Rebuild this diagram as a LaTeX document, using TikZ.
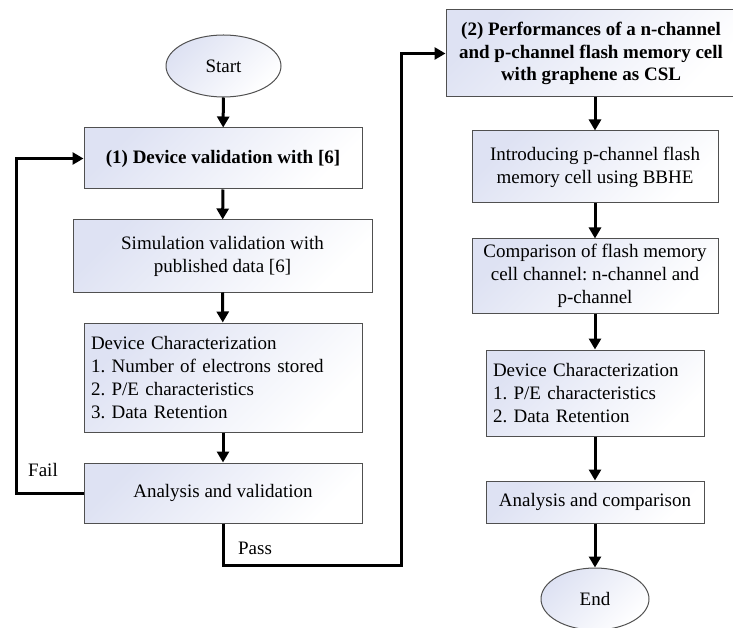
\documentclass[tikz,border=0pt]{standalone}
\usepackage{fontspec}
\setmainfont{Liberation Serif}
\usetikzlibrary{arrows.meta,shapes.geometric}
\definecolor{shadec}{RGB}{222,226,243}
\definecolor{edgec}{RGB}{80,80,80}
\frenchspacing
\begin{document}
\begin{tikzpicture}[x=1pt,y=-1pt,
  txt/.style={font=\fontsize{19}{23}\selectfont},
  box/.style={txt,draw=edgec,line width=1pt,top color=shadec,bottom color=white,shading angle=45,align=center,inner sep=0pt},
  boldbox/.style={box,font=\fontsize{19}{22.5}\selectfont\bfseries},
  term/.style={box,ellipse},
  arr/.style={line width=3pt,-{Triangle[length=11pt,width=12pt]}}
]
\useasboundingbox (0,0) rectangle (733,628);

\node[term, minimum width=115pt, minimum height=62pt] (start) at (223.5,66) {Start};
\node[boldbox, minimum width=278pt, minimum height=61pt] (b1) at (223,158.5) {(1) Device validation with [6]};
\node[box, minimum width=299pt, minimum height=72pt] (b2) at (222.5,256) {Simulation validation with\\published data [6]};
\node[box, minimum width=278pt, minimum height=109pt, align=left, text width=264pt] (b3) at (223,377.5) {Device Characterization\\1. Number of electrons stored\\2. P/E characteristics\\3. Data Retention};
\node[box, minimum width=278pt, minimum height=60pt] (b4) at (223,493) {Analysis and validation};

\node[boldbox, minimum width=290pt, minimum height=87pt] (b5) at (591,53.5) {(2) Performances of a n-channel\\and p-channel flash memory cell\\with graphene as CSL};
\node[box, minimum width=246pt, minimum height=72pt] (b6) at (595,167) {Introducing p-channel flash\\memory cell using BBHE};
\node[box, minimum width=246pt, minimum height=74pt] (b7) at (595,276) {Comparison of flash memory\\cell channel: n-channel and\\p-channel};
\node[box, minimum width=218pt, minimum height=86pt, align=left, text width=204pt] (b8) at (595,393) {Device Characterization\\1. P/E characteristics\\2. Data Retention};
\node[box, minimum width=218pt, minimum height=42pt] (b9) at (595,502) {Analysis and comparison};
\node[term, minimum width=108pt, minimum height=62pt] (end) at (595,599) {End};

\coordinate (fl) at (16,493);
\coordinate (pc) at (401,565);

\draw[arr] (start) -- (b1);
\draw[arr] (b1) -- (b2);
\draw[arr] (b2) -- (b3);
\draw[arr] (b3) -- (b4);
\draw[arr] (b4.west) -- (fl) |- (b1.west);
\draw[arr] (b4.south) |- (pc) |- (b5.west);

\draw[arr] (b6.north |- b5.south) -- (b6);
\draw[arr] (b6) -- (b7);
\draw[arr] (b7) -- (b8);
\draw[arr] (b8) -- (b9);
\draw[arr] (b9) -- (end);

\node[txt] (fail) at (43,470) {Fail};
\node[txt] (pass) at (255,548) {Pass};
\end{tikzpicture}
\end{document}
